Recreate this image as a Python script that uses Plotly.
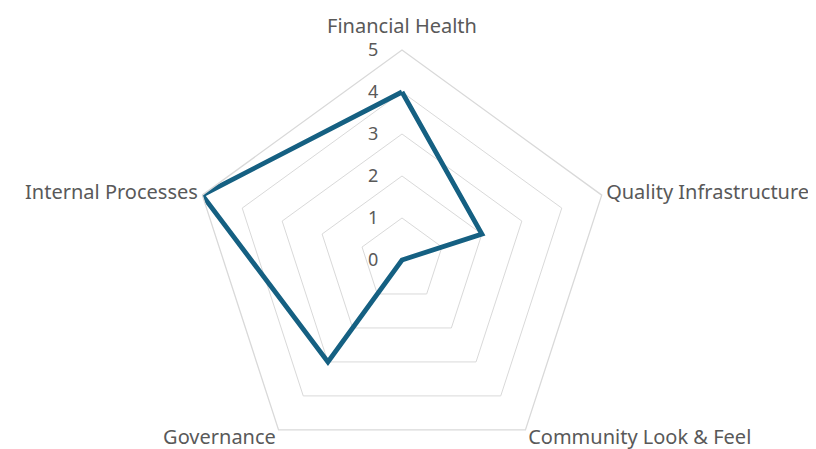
import plotly.graph_objects as go

categories = ["Financial Health", "Quality Infrastructure", "Community Look & Feel", "Governance", "Internal Processes"]
values = [4, 2, 0, 3, 5]
tick_vals = [0, 1, 2, 3, 4, 5]
tick_text = ["0", "1", "2", "3", "4", "5"]

# small vertical nudges (px, positive = up) for the category labels
label_shift = {"Financial Health": 8, "Community Look & Feel": 10, "Governance": 10}
cat_ticktext = [
    f"<span style='baseline-shift:{label_shift[c]}px'>{c}</span>" if c in label_shift else c
    for c in categories
]

fig = go.Figure()
fig.add_trace(go.Scatterpolar(
    r=values + values[:1],
    theta=categories + categories[:1],
    mode="lines",
    line=dict(color="#156082", width=4.8),
    showlegend=False,
))

W, H = 800, 462
fig.update_layout(
    width=W, height=H,
    margin=dict(l=184, r=196, t=42, b=0),
    paper_bgcolor="white",
    font=dict(family="Noto Sans", size=20, color="#595959"),
    polar=dict(
        bgcolor="white",
        gridshape="linear",
        domain=dict(x=[0, 1], y=[0, 1]),
        angularaxis=dict(
            rotation=90, direction="clockwise",
            tickmode="array", tickvals=categories, ticktext=cat_ticktext,
            showgrid=False, showline=True, linecolor="#D9D9D9", linewidth=1.3,
            ticks="", tickfont=dict(size=20, color="#595959"),
        ),
        radialaxis=dict(
            range=[0, 5], tickvals=tick_vals, ticktext=tick_text,
            angle=90, tickangle=90, side="counterclockwise",
            showline=False, gridcolor="#D9D9D9", gridwidth=1.3,
            ticks="outside", ticklen=17, tickcolor="rgba(0,0,0,0)",
            tickfont=dict(size=18, color="#595959"),
        ),
    ),
)
fig.write_html("out.html")
